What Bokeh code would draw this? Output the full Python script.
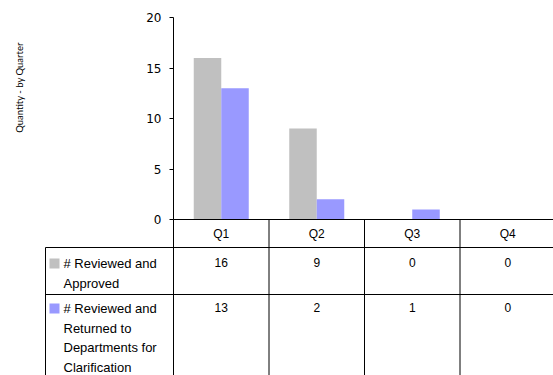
import math
from bokeh.plotting import figure
from bokeh.models import Range1d, LinearAxis, FixedTicker, ColumnDataSource
from bokeh.core.properties import value
from bokeh.embed import file_html
from bokeh.resources import INLINE

# ---- data ----
quarters = ["Q1", "Q2", "Q3", "Q4"]
approved = [16, 9, 0, 0]
returned = [13, 2, 1, 0]
series_lines = [
    ["# Reviewed and", "Approved"],
    ["# Reviewed and", "Returned to", "Departments for", "Clarification"],
]
y_ticks = [0, 5, 10, 15, 20]
y_label = "Quantity - by Quarter"
colors = ["#C0C0C0", "#9999FF"]

# ---- layout constants (pixels) ----
W, H = 553, 375
X0, PXX = 173.0, 95.5      # pixel of x=0 and pixels per category
Y0, PXY = 219.0, 10.1      # pixel of y=0 and pixels per unit


def dx(px):
    return (px - X0) / PXX


def dy(py):
    return (Y0 - py) / PXY


p = figure(width=W, height=H, output_backend="svg", toolbar_location=None,
           x_range=Range1d(dx(0), dx(W)), y_range=Range1d(dy(H), dy(0)),
           x_axis_type=None, y_axis_type=None, min_border=0)
p.outline_line_color = None
p.background_fill_color = "white"

# y axis at x = 0 (left edge of category area)
yaxis = LinearAxis(fixed_location=0, ticker=FixedTicker(ticks=y_ticks),
                   bounds=(min(y_ticks), max(y_ticks)))
yaxis.axis_line_color = "#000000"
yaxis.major_tick_line_color = "#000000"
yaxis.major_tick_out = 4
yaxis.major_tick_in = 0
yaxis.minor_tick_line_color = None
yaxis.major_label_standoff = 8
yaxis.major_label_text_font = "DejaVu Sans"
yaxis.major_label_text_font_size = "12px"
yaxis.major_label_text_color = "#000000"
p.add_layout(yaxis, "left")

# bars
n = len(quarters)
bw = 0.288
xs = [i + 0.5 for i in range(n)]
src = ColumnDataSource(dict(
    xa=[x - bw / 2 for x in xs], xr=[x + bw / 2 for x in xs],
    approved=approved, returned=returned))
p.vbar(x="xa", top="approved", bottom=0, width=bw, source=src,
       fill_color=colors[0], line_color=None)
p.vbar(x="xr", top="returned", bottom=0, width=bw, source=src,
       fill_color=colors[1], line_color=None)

# table grid
right = n + 0.2
left = dx(45)
row_h = [dy(247), dy(294)]
bottom = dy(H + 5)
hx0, hx1, hy = [], [], []
hx0.append(0); hx1.append(right); hy.append(0)
for y in row_h:
    hx0.append(left); hx1.append(right); hy.append(y)
p.segment(x0=hx0, y0=hy, x1=hx1, y1=hy, line_color="#000000", line_width=1)
vx = [left] + list(range(n))
vy0 = [row_h[0]] + [0] * n
p.segment(x0=vx, y0=vy0, x1=vx, y1=[bottom] * len(vx), line_color="#000000", line_width=1)

font = value("Liberation Sans")
# header
p.text(x=xs, y=[dy(233)] * n, text=quarters, text_align="center", text_baseline="middle",
       text_font=font, text_font_size="12px", text_color="#000000")
# values
p.text(x=xs, y=[dy(262)] * n, text=[str(v) for v in approved], text_align="center",
       text_baseline="middle", text_font=font, text_font_size="12px", text_color="#000000")
p.text(x=xs, y=[dy(307)] * n, text=[str(v) for v in returned], text_align="center",
       text_baseline="middle", text_font=font, text_font_size="12px", text_color="#000000")

# legend column
row_first = [dy(263), dy(308)]
sw_x, sw_y, lx, ly, lt = [], [], [], [], []
for k, lines in enumerate(series_lines):
    sw_x.append(dx(54)); sw_y.append(row_first[k])
    for j, t in enumerate(lines):
        lx.append(dx(63)); ly.append(row_first[k] - j * 19.6 / PXY); lt.append(t)
p.rect(x=sw_x, y=sw_y, width=10, height=10, width_units="screen", height_units="screen",
       fill_color=colors, line_color=None)
p.text(x=lx, y=ly, text=lt, text_align="left", text_baseline="middle",
       text_font=font, text_font_size="13px", text_color="#000000")

# y axis title
p.text(x=[dx(19)], y=[dy(87)], text=[y_label], angle=math.pi / 2, text_align="center",
       text_baseline="middle", text_font=value("Lato"), text_font_size="9.5px",
       text_color="#000000")

open("out.html", "w").write(file_html(p, INLINE))
